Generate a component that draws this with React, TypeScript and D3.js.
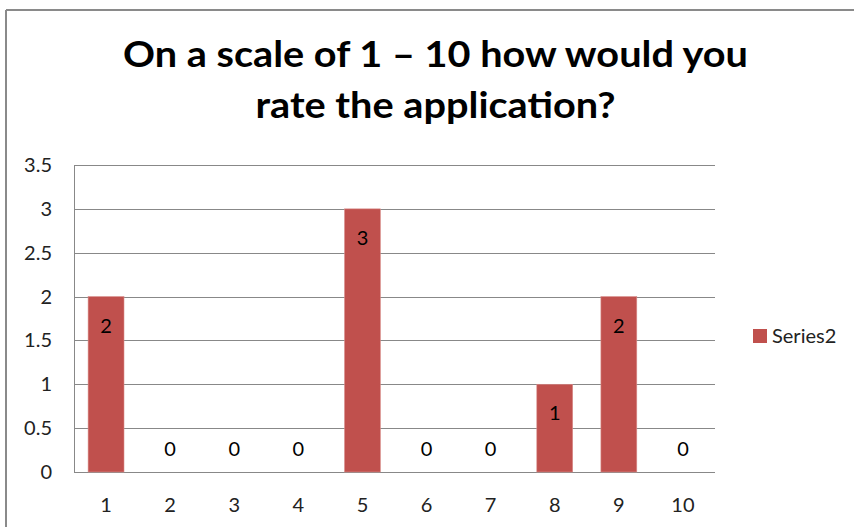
import React from "react";
import * as d3 from "d3";

const categories = ["1", "2", "3", "4", "5", "6", "7", "8", "9", "10"];
const values = [2, 0, 0, 0, 3, 0, 0, 1, 2, 0];
const yTicks = [0, 0.5, 1, 1.5, 2, 2.5, 3, 3.5];
const titleLines = ["On a scale of 1 \u2013 10 how would you", "rate the application?"];
const seriesName = "Series2";

const W = 854;
const H = 527;
const plot = { left: 74, right: 715, top: 165, bottom: 472 };
const FONT = "Lato, 'Liberation Sans', sans-serif";
const BAR = "#C0504D";
const GRID = "#888888";

export default function App() {
  const x = d3
    .scaleBand<string>()
    .domain(categories)
    .range([plot.left, plot.right])
    .paddingInner(0.44)
    .paddingOuter(0.22);
  const y = d3.scaleLinear().domain([0, 3.5]).range([plot.bottom, plot.top]);
  const fmt = d3.format("~g");

  return (
    <svg
      width={W}
      height={H}
      style={{ position: "absolute", left: 0, top: 0, background: "#fff" }}
    >
      <rect x={0} y={0} width={W} height={H} fill="#fff" />
      {/* outer chart border */}
      <line x1={6} x2={W} y1={10} y2={10} stroke="#8a8a8a" strokeWidth={2} />
      <line x1={6} x2={6} y1={10} y2={H} stroke="#8a8a8a" strokeWidth={2} />

      {/* title */}
      {titleLines.map((t, i) => (
        <text
          key={i}
          x={435.5}
          y={67 + i * 51}
          textAnchor="middle"
          fontFamily={FONT}
          fontWeight={700}
          fontSize={36}
          fill="#000"
          textLength={i === 0 ? 625 : 360}
          lengthAdjust="spacingAndGlyphs"
        >
          {t}
        </text>
      ))}

      {/* gridlines */}
      {yTicks.map((t) => (
        <line
          key={t}
          x1={plot.left}
          x2={plot.right}
          y1={Math.round(y(t)) + 0.5}
          y2={Math.round(y(t)) + 0.5}
          stroke={GRID}
          strokeWidth={1}
        />
      ))}
      {/* y axis line */}
      <line
        x1={plot.left + 0.5}
        x2={plot.left + 0.5}
        y1={plot.top}
        y2={plot.bottom}
        stroke={GRID}
        strokeWidth={1}
      />

      {/* y tick labels */}
      {yTicks.map((t) => (
        <text
          key={t}
          x={52}
          y={y(t)}
          dy="0.35em"
          textAnchor="end"
          fontFamily={FONT}
          fontSize={20}
          fill="#222"
        >
          {fmt(t)}
        </text>
      ))}

      {/* bars */}
      {categories.map((c, i) => {
        const v = values[i];
        const bx = x(c)!;
        const bw = x.bandwidth();
        return (
          <g key={c}>
            {v > 0 && (
              <rect
                x={bx}
                y={y(v)}
                width={bw}
                height={y(0) - y(v)}
                fill={BAR}
                stroke="#d98f8d"
                strokeWidth={0.6}
              />
            )}
            <text
              x={bx + bw / 2}
              y={v > 0 ? y(v) + 29 : y(0) - 23}
              dy="0.35em"
              textAnchor="middle"
              fontFamily={FONT}
              fontSize={20}
              fill="#000"
            >
              {v}
            </text>
            <text
              x={bx + bw / 2}
              y={505}
              dy="0.35em"
              textAnchor="middle"
              fontFamily={FONT}
              fontSize={20}
              fill="#222"
            >
              {c}
            </text>
          </g>
        );
      })}

      {/* legend */}
      <rect x={753} y={329} width={14} height={14} fill={BAR} />
      <text
        x={772}
        y={336}
        dy="0.35em"
        fontFamily={FONT}
        fontSize={20}
        fill="#222"
      >
        {seriesName}
      </text>
    </svg>
  );
}
